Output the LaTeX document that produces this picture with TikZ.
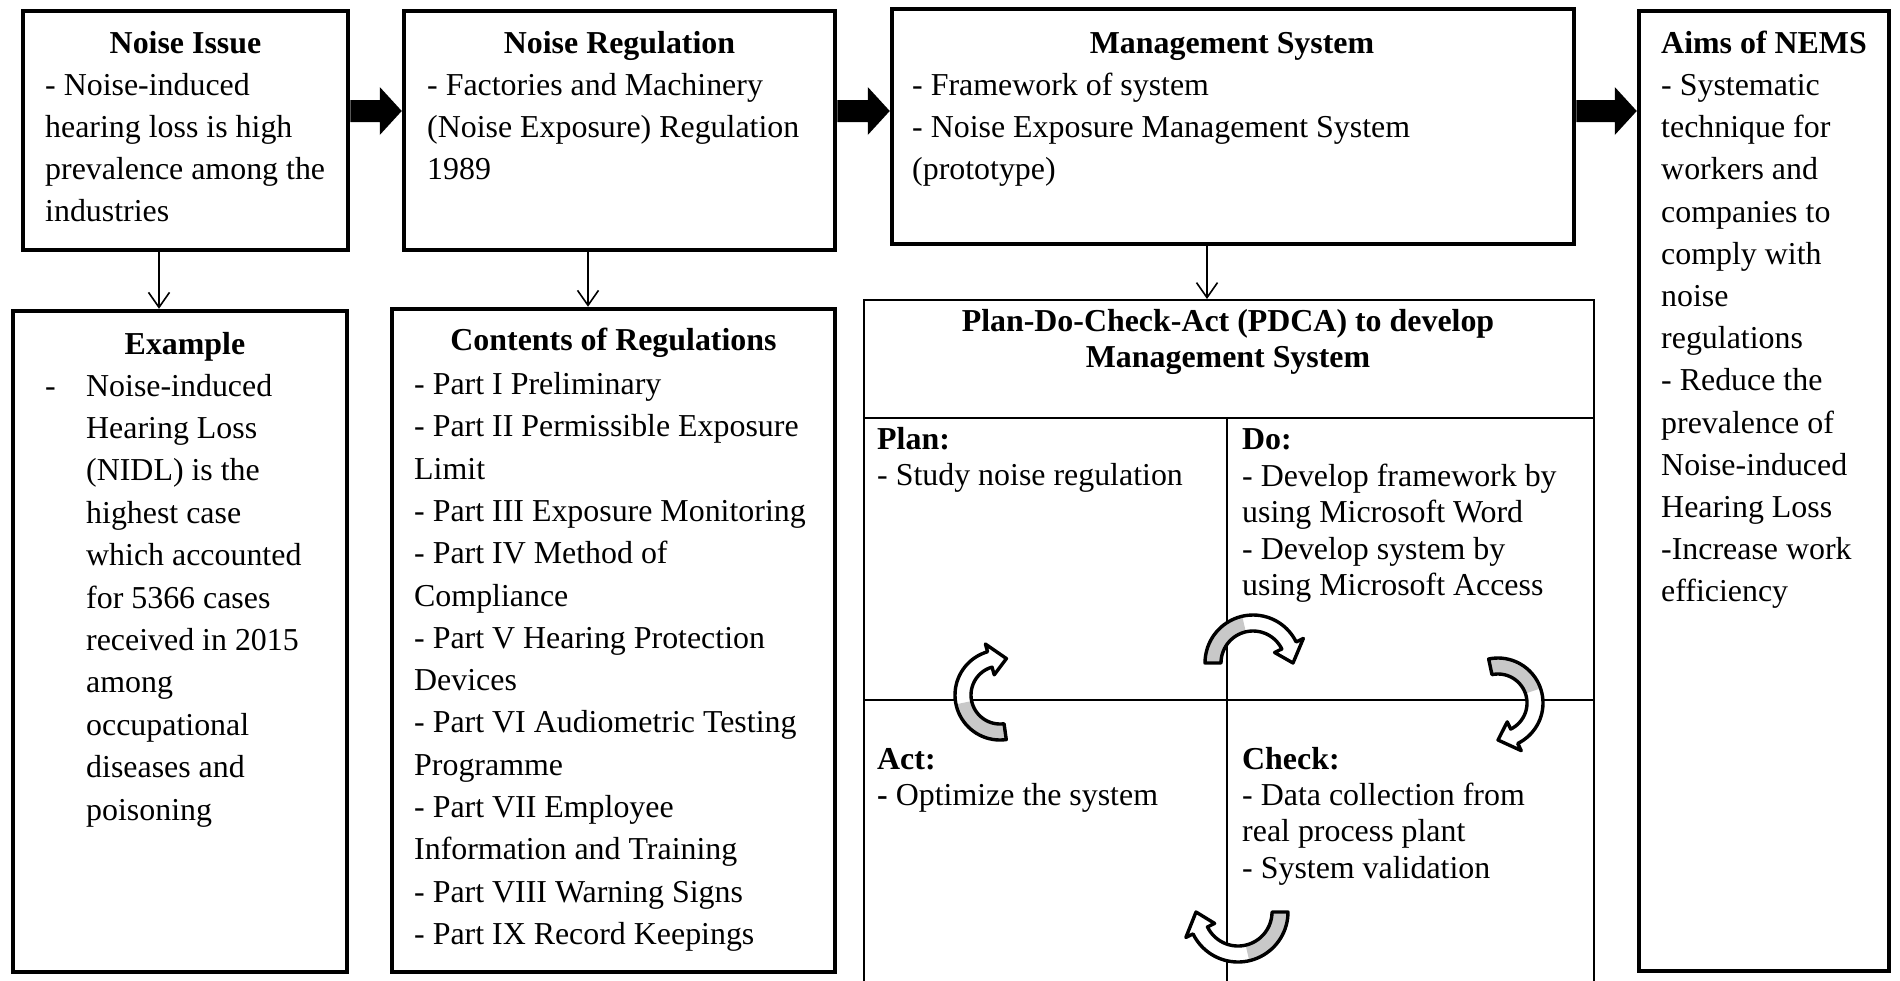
\documentclass[tikz,border=0pt]{standalone}
\usepackage{fontspec}
\setmainfont{Liberation Serif}
\usetikzlibrary{arrows.meta,calc}

\definecolor{arrowgray}{RGB}{200,200,200}
\newcommand{\bodyfont}{\fontsize{31.9}{42}\selectfont}

% a column of text lines, one node per line: name prefix, x, first baseline, step, lines
\newcommand{\linesat}[5]{%
  \foreach \ln [count=\k] in {#5} {\node[txt] (#1\k) at (#2,{#3+(\k-1)*#4}) {\ln};}}

% thick black block arrow between two points on one level
\newcommand{\blockarrow}[2]{%
  \fill ($(#1)+(0,-11)$) -- ($(#2)+(-22,-11)$) -- ($(#2)+(-22,-24)$) -- (#2)
        -- ($(#2)+(-22,24)$) -- ($(#2)+(-22,11)$) -- ($(#1)+(0,11)$) -- cycle;}

% curved cycle arrow: centre x, centre y, radius, start angle, end angle (head)
\newcommand{\cyclearrow}[5]{%
  \pgfmathsetmacro{\cySg}{(#5>#4)?1:-1}%
  \pgfmathsetmacro{\cyHb}{#5-\cySg*26}%
  \pgfmathsetmacro{\cyMb}{(#4+\cyHb)/2}%
  \pgfmathsetmacro{\cyRo}{#3+8}%
  \pgfmathsetmacro{\cyRi}{#3-8}%
  \pgfmathsetmacro{\cyHo}{#3+16}%
  \pgfmathsetmacro{\cyHi}{#3-16}%
  \def\cyShape{plot[variable=\t,domain=#4:\cyHb,samples=40] ({#1+\cyRo*cos(\t)},{#2+\cyRo*sin(\t)})
    -- ({#1+\cyHo*cos(\cyHb)},{#2+\cyHo*sin(\cyHb)})
    -- ({#1+#3*cos(#5)},{#2+#3*sin(#5)})
    -- ({#1+\cyHi*cos(\cyHb)},{#2+\cyHi*sin(\cyHb)})
    -- ({#1+\cyRi*cos(\cyHb)},{#2+\cyRi*sin(\cyHb)})
    -- plot[variable=\t,domain=\cyHb:#4,samples=40] ({#1+\cyRi*cos(\t)},{#2+\cyRi*sin(\t)}) -- cycle}%
  \fill[white] \cyShape;
  \fill[arrowgray] plot[variable=\t,domain=#4:\cyMb,samples=30] ({#1+\cyRo*cos(\t)},{#2+\cyRo*sin(\t)})
    -- plot[variable=\t,domain=\cyMb:#4,samples=30] ({#1+\cyRi*cos(\t)},{#2+\cyRi*sin(\t)}) -- cycle;
  \draw[line width=3.4pt, line join=round] \cyShape;}

\begin{document}
\begin{tikzpicture}[x=1pt,y=-1pt,
  bigbox/.style={draw, line width=4.5pt, inner sep=0pt},
  thinbox/.style={draw, line width=2pt, inner sep=0pt},
  thinline/.style={line width=2pt},
  txt/.style={inner sep=0pt, anchor=base west, font=\bodyfont},
  ttl/.style={inner sep=0pt, anchor=base, font=\bodyfont\bfseries},
  btxt/.style={inner sep=0pt, anchor=base west, font=\bodyfont\bfseries},
  flow/.style={line width=1.6pt, -{Straight Barb[length=15pt,width=21pt]}}]

\useasboundingbox (0,0) rectangle (1900,980);
\clip (0,0) rectangle (1900,980);
\fill[white] (0,0) rectangle (1900,980);

% top row
\node[bigbox, minimum width=325pt, minimum height=239pt] (ni) at (185.5,130.5) {};
\node[bigbox, minimum width=431pt, minimum height=239pt] (nr) at (619.5,130.5) {};
\node[bigbox, minimum width=682pt, minimum height=235pt] (ms) at (1233,126.5) {};
\node[bigbox, minimum width=250pt, minimum height=960pt] (aims) at (1764,491) {};

% lower row
\node[bigbox, minimum width=334pt, minimum height=661pt] (ex) at (180,641.5) {};
\node[bigbox, minimum width=443pt, minimum height=663pt] (cr) at (613.5,640.5) {};
\node[thinbox, anchor=north west, minimum width=730pt, minimum height=720pt] (pdca) at (863,299) {};

% PDCA grid
\coordinate (hdr) at (0,418);
\coordinate (mid) at (0,700);
\coordinate (vx) at (1227,0);
\draw[thinline] (pdca.west |- hdr) -- (pdca.east |- hdr);
\draw[thinline] (pdca.west |- mid) -- (pdca.east |- mid);
\draw[thinline] (vx |- hdr) -- (vx |- pdca.south);

% block arrows along the top row
\coordinate (lvl) at (0,111);
\coordinate (a1) at (ni.east |- lvl);  \coordinate (b1) at (nr.west |- lvl);
\coordinate (a2) at (nr.east |- lvl);  \coordinate (b2) at (ms.west |- lvl);
\coordinate (a3) at (ms.east |- lvl);  \coordinate (b3) at (aims.west |- lvl);
\blockarrow{a1}{b1}
\blockarrow{a2}{b2}
\blockarrow{a3}{b3}

% downward links
\coordinate (d1) at (159,0);
\coordinate (d2) at (588,0);
\coordinate (d3) at (1207,0);
\draw[flow] (ni.south -| d1) -- (ex.north -| d1);
\draw[flow] (nr.south -| d2) -- (cr.north -| d2);
\draw[flow] (ms.south -| d3) -- (pdca.north -| d3);

% texts of the top row
\node[ttl] (nit) at (185.5,53.5) {Noise Issue};
\linesat{nib}{45}{95.5}{42}{{- Noise-induced},{hearing loss is high},{prevalence among the},{industries}}

\node[ttl] (nrt) at (619.5,53.5) {Noise Regulation};
\linesat{nrb}{427}{95.5}{42}{{- Factories and Machinery},{(Noise Exposure) Regulation},{1989}}

\node[ttl] (mst) at (1232,53) {Management System};
\linesat{msb}{912}{95.5}{42}{{- Framework of system},{- Noise Exposure Management System},{(prototype)}}

\node[ttl] (aimst) at (1764,53.5) {Aims of NEMS};
\linesat{aimsb}{1661}{95.5}{42.2}{{- Systematic},{technique for},{workers and},{companies to},{comply with},{noise},{regulations},{- Reduce the},{prevalence of},{Noise-induced},{Hearing Loss},{-Increase work},{efficiency}}

% texts of the lower row
\node[ttl] (ext) at (185,354) {Example};
\node[txt] (exd) at (45,396) {-};
\linesat{exb}{86}{396}{42.4}{{Noise-induced},{Hearing Loss},{(NIDL) is the},{highest case},{which accounted},{for 5366 cases},{received in 2015},{among},{occupational},{diseases and},{poisoning}}

\node[ttl] (crt) at (613.5,350.5) {Contents of Regulations};
\linesat{crb}{414}{394.5}{42.3}{{- Part I Preliminary},{- Part II Permissible Exposure},{Limit},{- Part III Exposure Monitoring},{- Part IV Method of},{Compliance},{- Part V Hearing Protection},{Devices},{- Part VI Audiometric Testing},{Programme},{- Part VII Employee},{Information and Training},{- Part VIII Warning Signs},{- Part IX Record Keepings}}

% PDCA texts
\node[ttl] (pt1) at (1228,331.5) {Plan-Do-Check-Act (PDCA) to develop};
\node[ttl] (pt2) at (1228,367.5) {Management System};

\node[btxt] (plant) at (877,449.5) {Plan:};
\node[txt] (plan1) at (877,485) {- Study noise regulation};

\node[btxt] (dot) at (1242,449.5) {Do:};
\node[txt] (do1) at (1242,486) {- Develop framework by};
\node[txt] (do2) at (1242,522) {using Microsoft Word};
\node[txt] (do3) at (1242,559) {- Develop system by};
\node[txt] (do4) at (1242,595) {using Microsoft Access};

\node[btxt] (actt) at (877,769.5) {Act:};
\node[txt] (act1) at (877,805.5) {\textbf{-} Optimize the system};

\node[btxt] (checkt) at (1242,769.5) {Check:};
\node[txt] (check1) at (1242,805.5) {- Data collection from};
\node[txt] (check2) at (1242,841.5) {real process plant};
\node[txt] (check3) at (1242,878.5) {- System validation};

% cycle arrows between the quadrants
\cyclearrow{1253}{663}{40}{180}{360}
\cyclearrow{1498}{703}{37}{258}{450}
\cyclearrow{1238}{912}{42}{0}{180}
\cyclearrow{1000}{695}{37}{82}{280}

\end{tikzpicture}
\end{document}
